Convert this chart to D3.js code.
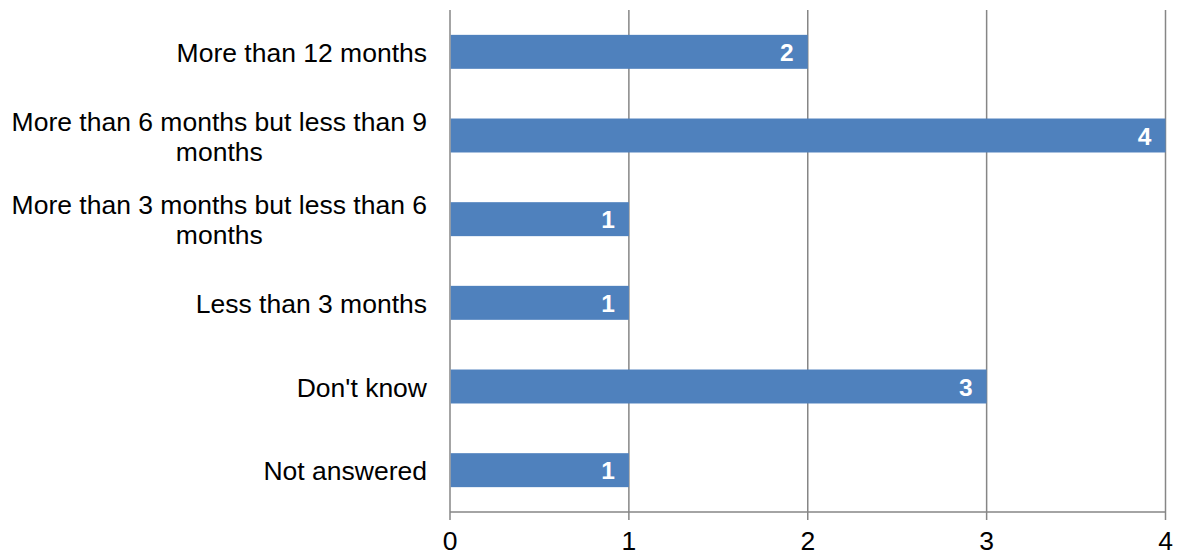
<!DOCTYPE html>
<html><head><meta charset="utf-8">
<script src="https://cdn.jsdelivr.net/npm/d3@7"></script>
<style>body{margin:0;background:#fff}svg{display:block}text{font-family:"Liberation Sans",Arial,sans-serif}</style>
</head><body>
<svg id="c" width="1179" height="556"></svg>
<script>
const categories = ["More than 12 months","More than 6 months but less than 9 months","More than 3 months but less than 6 months","Less than 3 months","Don't know","Not answered"];
const values = [2,4,1,1,3,1];
const tickValues = [0,1,2,3,4];

(function(){
const svg = d3.select("#c");
const mLeft = 450, mRight = 1165.5, mTop = 10, mBottom = 512;
const x = d3.scaleLinear().domain([0,4]).range([mLeft,mRight]);
const y = d3.scaleBand().domain(categories).range([mTop,mBottom]).paddingInner(0.594).paddingOuter(0.297);
const grid = "#868686";
const fs = 26.5;

svg.append("g").selectAll("line").data(tickValues).join("line")
  .attr("x1",d=>x(d)).attr("x2",d=>x(d)).attr("y1",mTop).attr("y2",mBottom+8)
  .attr("stroke",grid).attr("stroke-width",1.5);
svg.append("line").attr("x1",mLeft).attr("x2",mRight).attr("y1",mBottom).attr("y2",mBottom)
  .attr("stroke",grid).attr("stroke-width",1.5);
svg.append("g").selectAll("text").data(tickValues).join("text")
  .attr("x",d=>x(d)).attr("y",550).attr("text-anchor","middle")
  .attr("font-size",fs).attr("fill","#000").text(d=>d);

svg.append("g").selectAll("rect").data(values).join("rect")
  .attr("x",x(0)+0.75).attr("y",(d,i)=>y(categories[i]))
  .attr("width",d=>x(d)-x(0)-0.75).attr("height",y.bandwidth())
  .attr("fill","#4f81bd");
svg.append("g").selectAll("text").data(values).join("text")
  .attr("x",d=>x(d)-14).attr("y",(d,i)=>y(categories[i])+y.bandwidth()/2+9)
  .attr("text-anchor","end").attr("font-size",24.5).attr("font-weight","bold")
  .attr("fill","#fff").text(d=>d);

const maxW = 425, lh = 30;
const probe = svg.append("text").attr("font-size",fs);
const measure = s => { probe.text(s); return probe.node().getComputedTextLength(); };
categories.forEach((c,i)=>{
  const cy = y(c)+y.bandwidth()/2;
  const words = c.split(" ");
  let lines = [], cur = [];
  words.forEach(w=>{
    const test = cur.concat([w]).join(" ");
    if (measure(test) > maxW && cur.length) { lines.push(cur.join(" ")); cur=[w]; }
    else cur.push(w);
  });
  lines.push(cur.join(" "));
  const blockW = d3.max(lines, measure);
  const xr = mLeft - 23;
  const xc = xr - blockW/2;
  const t = svg.append("text").attr("text-anchor","middle").attr("font-size",fs).attr("fill","#000");
  const start = cy + 10 - (lines.length-1)*lh/2;
  lines.forEach((l,k)=>{
    t.append("tspan").attr("x",xc).attr("y",start+k*lh).text(l);
  });
});
probe.remove();
})();
</script>
</body></html>
